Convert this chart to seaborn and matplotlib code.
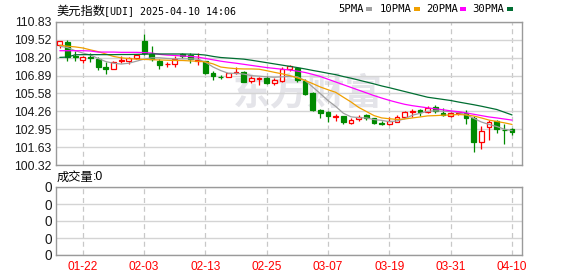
import numpy as np
import pandas as pd
import matplotlib
matplotlib.use('Agg')
import matplotlib.pyplot as plt
import seaborn as sns
from matplotlib.patches import Rectangle

# ---------------- data ----------------
dates = ['01-17', '01-20', '01-21', '01-22', '01-23', '01-24', '01-27', '01-28', '01-29', '01-30',
         '01-31', '02-03', '02-04', '02-05', '02-06', '02-07', '02-10', '02-11', '02-12', '02-13',
         '02-14', '02-17', '02-18', '02-19', '02-20', '02-21', '02-24', '02-25', '02-26', '02-27',
         '02-28', '03-03', '03-04', '03-05', '03-06', '03-07', '03-10', '03-11', '03-12', '03-13',
         '03-14', '03-17', '03-18', '03-19', '03-20', '03-21', '03-24', '03-25', '03-26', '03-27',
         '03-28', '03-31', '04-01', '04-02', '04-03', '04-04', '04-07', '04-08', '04-09', '04-10']

opens = [109.15, 109.37, 108.30, 108.06, 108.28, 108.11, 107.55, 107.38, 107.95, 107.97,
         108.19, 109.42, 108.48, 107.97, 107.72, 107.74, 108.46, 108.40, 108.00, 107.94,
         107.09, 106.82, 106.82, 107.06, 107.18, 106.50, 106.66, 106.70, 106.36, 106.53,
         107.35, 107.45, 106.53, 105.60, 104.34, 104.22, 103.86, 103.93, 103.44, 103.72,
         103.98, 103.74, 103.43, 103.32, 103.50, 103.86, 104.22, 104.34, 104.22, 104.58,
         104.17, 103.95, 104.15, 104.17, 103.74, 101.99, 103.12, 103.54, 102.92, 102.96]
highs = [109.47, 109.50, 108.70, 108.32, 108.55, 108.28, 107.86, 107.98, 108.30, 108.28,
         108.50, 109.95, 109.08, 108.14, 107.88, 108.30, 108.55, 108.55, 108.57, 108.00,
         107.20, 106.92, 107.08, 107.50, 107.25, 106.85, 106.80, 106.88, 106.70, 107.50,
         107.70, 107.55, 106.65, 105.70, 104.42, 104.30, 104.10, 103.95, 103.75, 104.00,
         104.05, 103.80, 103.55, 103.85, 104.00, 104.30, 104.47, 104.47, 104.62, 104.70,
         104.51, 104.25, 104.27, 104.34, 103.93, 103.20, 103.61, 103.60, 103.33, 103.01]
lows = [108.90, 107.99, 108.00, 107.82, 107.92, 107.31, 107.02, 107.35, 107.79, 107.75,
        108.11, 108.40, 107.94, 107.35, 107.55, 107.50, 108.21, 107.79, 107.67, 107.02,
        106.60, 106.63, 106.80, 107.02, 106.43, 106.37, 106.22, 106.30, 106.22, 106.45,
        107.26, 106.45, 105.50, 104.30, 103.78, 103.45, 103.55, 103.30, 103.30, 103.55,
        103.60, 103.35, 103.25, 103.25, 103.45, 103.80, 103.86, 103.95, 104.15, 104.15,
        103.93, 103.85, 104.00, 103.33, 101.28, 101.50, 102.15, 102.70, 101.86, 102.55]
closes = [109.45, 108.23, 108.25, 108.28, 108.18, 107.50, 107.38, 107.86, 108.02, 108.19,
          108.43, 108.57, 108.11, 107.65, 107.76, 108.11, 108.32, 108.11, 108.05, 107.09,
          106.87, 106.79, 107.06, 107.18, 106.45, 106.73, 106.75, 106.36, 106.58, 107.35,
          107.62, 106.55, 105.56, 104.34, 104.17, 103.93, 103.92, 103.49, 103.65, 103.82,
          103.80, 103.44, 103.31, 103.52, 103.85, 104.22, 104.32, 104.20, 104.51, 104.30,
          103.98, 104.17, 104.20, 103.80, 101.99, 102.84, 103.49, 103.00, 102.86, 102.72]

ma5 = [109.05, 108.95, 108.72, 108.55, 108.40, 108.15, 107.92, 107.80, 107.74, 107.80,
       107.95, 108.10, 108.20, 108.20, 108.15, 108.12, 108.12, 108.12, 108.10, 107.88,
       107.52, 107.26, 107.06, 107.06, 107.00, 106.89, 106.85, 106.80, 106.77, 106.80,
       106.84, 106.80, 106.53, 106.05, 105.56, 105.05, 104.62, 104.12, 103.86, 103.80,
       103.78, 103.66, 103.60, 103.50, 103.56, 103.72, 103.98, 104.12, 104.27, 104.30,
       104.27, 104.25, 104.17, 104.02, 103.75, 103.48, 103.30, 103.15, 102.95, 102.85]
ma10 = [109.13, 109.05, 109.00, 108.92, 108.78, 108.65, 108.48, 108.30, 108.20, 108.14,
        108.10, 108.08, 108.06, 108.04, 108.02, 108.00, 108.00, 107.97, 107.94, 107.90,
        107.75, 107.52, 107.45, 107.40, 107.38, 107.38, 107.36, 107.25, 107.13, 107.02,
        106.89, 106.72, 106.53, 106.30, 106.05, 105.85, 105.66, 105.30, 104.95, 104.55,
        104.25, 103.95, 103.78, 103.72, 103.67, 103.70, 103.78, 103.85, 103.93, 103.95,
        103.98, 104.00, 104.03, 104.00, 103.92, 103.78, 103.62, 103.52, 103.42, 103.30]
ma20 = [108.72, 108.72, 108.72, 108.72, 108.70, 108.62, 108.62, 108.62, 108.60, 108.60,
        108.60, 108.58, 108.55, 108.45, 108.40, 108.37, 108.33, 108.30, 108.25, 108.15,
        108.05, 107.95, 107.87, 107.80, 107.72, 107.64, 107.56, 107.48, 107.42, 107.36,
        107.30, 107.22, 107.12, 106.98, 106.82, 106.62, 106.42, 106.22, 106.02, 105.82,
        105.62, 105.42, 105.24, 105.07, 104.92, 104.78, 104.68, 104.60, 104.52, 104.45,
        104.38, 104.30, 104.24, 104.15, 104.05, 103.95, 103.85, 103.78, 103.70, 103.62]
ma30 = [108.23, 108.25, 108.42, 108.43, 108.43, 108.43, 108.43, 108.43, 108.44, 108.44,
        108.45, 108.46, 108.48, 108.48, 108.48, 108.48, 108.48, 108.47, 108.45, 108.40,
        108.30, 108.22, 108.18, 108.14, 108.10, 108.02, 107.93, 107.84, 107.75, 107.66,
        107.57, 107.48, 107.38, 107.27, 107.17, 107.06, 106.96, 106.82, 106.70, 106.56,
        106.42, 106.28, 106.13, 106.00, 105.86, 105.72, 105.58, 105.44, 105.30, 105.22,
        105.14, 105.06, 104.95, 104.85, 104.75, 104.64, 104.52, 104.40, 104.20, 104.00]

volume = [0] * 60

price_ticks = [100.32, 101.63, 102.95, 104.26, 105.58, 106.89, 108.20, 109.52, 110.83]
xtick_dates = ['01-22', '02-03', '02-13', '02-25', '03-07', '03-19', '03-31', '04-10']
ma_names = ['5PMA', '10PMA', '20PMA', '30PMA']
title_cn = '美元指数'
title_rest = '[UDI] 2025-04-10 14:06'
vol_cn = '成交量'
vol_rest = ':0'
watermark = '东方财富'

# ---------------- style ----------------
sns.set_style('white')
plt.rcParams['font.family'] = ['Liberation Sans', 'Noto Sans CJK SC']

RED = '#ff0000'
GREEN = '#008a00'
MA_COLORS = ['#a0a0a0', '#f0a000', '#ff00ff', '#006e32']
GRID = '#d4d4d4'
SPINE = '#9a9a9a'

W, H = 578, 276
fig = plt.figure(figsize=(W / 100, H / 100), dpi=100)
fig.patch.set_facecolor('white')


def rect(l, t, r, b):
    return [l / W, 1 - b / H, (r - l) / W, (b - t) / H]


ax = fig.add_axes(rect(56, 22, 522, 165))
axv = fig.add_axes(rect(56, 187, 522, 255))

df = pd.DataFrame({'i': np.arange(len(dates)), 'date': dates, 'open': opens, 'high': highs,
                   'low': lows, 'close': closes, 'ma5': ma5, 'ma10': ma10, 'ma20': ma20,
                   'ma30': ma30, 'volume': volume})
up = df['close'] >= df['open']
dn = ~up

# watermark
ax.text(0.54, 0.50, watermark, transform=ax.transAxes, fontsize=27, fontweight='bold',
        color='#e4e4e9', ha='center', va='center', family=['Noto Sans CJK SC'], zorder=0)

# wicks
ax.vlines(df.loc[up, 'i'], df.loc[up, 'low'], df.loc[up, 'high'], color=RED, lw=0.9, zorder=2)
ax.vlines(df.loc[dn, 'i'], df.loc[dn, 'low'], df.loc[dn, 'high'], color=GREEN, lw=0.9, zorder=2)

# bodies
bw = 0.62
body_u = np.maximum((df.loc[up, 'close'] - df.loc[up, 'open']).values, 0.015)
ax.bar(df.loc[up, 'i'], body_u, bottom=df.loc[up, 'open'], width=bw, facecolor='white',
       edgecolor=RED, linewidth=0.9, zorder=3)
body_d = np.maximum((df.loc[dn, 'open'] - df.loc[dn, 'close']).values, 0.015)
ax.bar(df.loc[dn, 'i'], body_d, bottom=df.loc[dn, 'close'], width=bw, facecolor=GREEN,
       edgecolor=GREEN, linewidth=0.9, zorder=3)

# moving averages
for col, c in zip(['ma5', 'ma10', 'ma20', 'ma30'], MA_COLORS):
    sns.lineplot(data=df, x='i', y=col, ax=ax, color=c, lw=0.9, zorder=4, legend=False)

tick_pos = [dates.index(d) for d in xtick_dates]

for a in (ax, axv):
    a.set_xlim(-0.5, 60.3)
    a.set_xticks(tick_pos)
    a.xaxis.grid(True, color='#c8c8c8', lw=0.9, ls=(0, (4, 3)))
    a.yaxis.grid(True, color=GRID, lw=1.0)
    a.set_axisbelow(True)
    a.set_xlabel('')
    a.set_ylabel('')
    for s in a.spines.values():
        s.set_color(SPINE)
        s.set_linewidth(1.0)
    a.tick_params(length=0)

ax.set_ylim(price_ticks[0], price_ticks[-1])
ax.set_yticks(price_ticks)
ax.set_yticklabels([f'{v:.2f}' for v in price_ticks], fontsize=8.8, color='#1a1a1a')
ax.tick_params(axis='y', pad=3)
ax.set_xticklabels([])

sns.lineplot(data=df, x='i', y='volume', ax=axv, color=GREEN, lw=0, legend=False)
axv.set_ylim(0, 1)
axv.set_yticks([0, 0.25, 0.5, 0.75, 1.0])
axv.set_yticklabels(['0'] * 5, fontsize=9.8, color='#1a1a1a')
axv.tick_params(axis='y', pad=3)
axv.set_xticklabels(xtick_dates, fontsize=8.6, color=RED)
axv.tick_params(axis='x', pad=4)
axv.set_xlabel('')
axv.set_ylabel('')

# titles
fig.text(56 / W, 1 - 11 / H, title_cn, fontsize=8.8, family=['Noto Sans CJK SC'],
         va='center', ha='left', color='black')
fig.text(104 / W, 1 - 11 / H, title_rest, fontsize=7.2, family=['DejaVu Sans Mono'],
         va='center', ha='left', color='black')
fig.text(57 / W, 1 - 177 / H, vol_cn, fontsize=8.8, family=['Noto Sans CJK SC'],
         va='center', ha='left', color='black')
fig.text(93 / W, 1 - 177 / H, vol_rest, fontsize=8.8, family=['Liberation Sans'],
         va='center', ha='left', color='black')

# legend
leg_text_x = [338, 380, 426, 472]
leg_box_x = [366, 414, 460, 507]
for name, tx, bx, c in zip(ma_names, leg_text_x, leg_box_x, MA_COLORS):
    fig.text(tx / W, 1 - 9.5 / H, name, fontsize=7.6, family=['DejaVu Sans Mono'],
             va='center', ha='left', color='black')
    fig.patches.append(Rectangle((bx / W, 1 - 11 / H), 6 / W, 4 / H, transform=fig.transFigure,
                                 facecolor=c, edgecolor='none'))

fig.savefig('out.png', dpi=100)
